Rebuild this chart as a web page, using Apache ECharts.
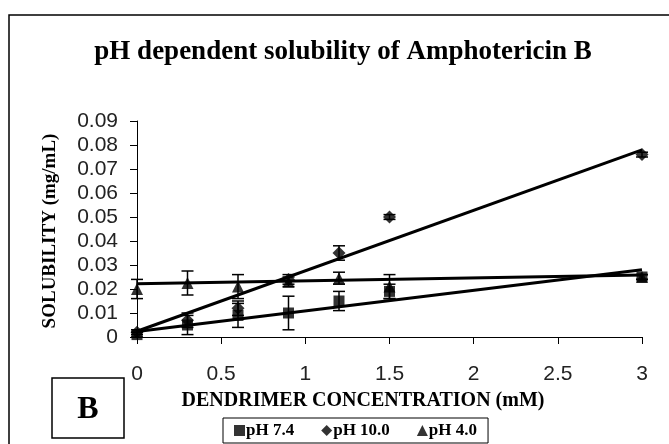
<!DOCTYPE html>
<html>
<head>
<meta charset="utf-8">
<script src="https://cdn.jsdelivr.net/npm/echarts@6/dist/echarts.min.js"></script>
<style>html,body{margin:0;padding:0;background:#fff;}#c{width:669px;height:444px;}</style>
</head>
<body>
<div id="c"></div>
<script>
var conc = [0, 0.3, 0.6, 0.9, 1.2, 1.5, 3];
var ph74 = [0.001, 0.005, 0.009, 0.010, 0.015, 0.019, 0.025];
var ph74Err = [0.001, 0.004, 0.005, 0.007, 0.004, 0.003, 0.001];
var ph10 = [0.002, 0.007, 0.012, 0.024, 0.035, 0.050, 0.076];
var ph10Err = [0.001, 0.003, 0.003, 0.002, 0.003, 0.001, 0.001];
var ph4 = [0.020, 0.0225, 0.021, 0.023, 0.0245, 0.021, 0.025];
var ph4Err = [0.004, 0.005, 0.005, 0.002, 0.0025, 0.005, 0.001];
var trend74 = [[0, 0.0023], [3, 0.0280]];
var trend10 = [[0, 0.0024], [3, 0.0780]];
var trend4 = [[0, 0.0222], [3, 0.0258]];
var xTicks = ['0', '0.5', '1', '1.5', '2', '2.5', '3'];
var yTicks = ['0', '0.01', '0.02', '0.03', '0.04', '0.05', '0.06', '0.07', '0.08', '0.09'];
var names = ['pH 7.4', 'pH 10.0', 'pH 4.0'];

function pts(ys){ return conc.map(function(x,i){ return [x, ys[i]]; }); }
function errData(ys, es){ return conc.map(function(x,i){ return [x, ys[i]-es[i], ys[i]+es[i]]; }); }
function errSeries(ys, es){
  return {
    type: 'custom', silent: true, z: 3,
    data: errData(ys, es),
    renderItem: function(params, api){
      var lo = api.coord([api.value(0), api.value(1)]);
      var hi = api.coord([api.value(0), api.value(2)]);
      var w = 6;
      var st = {stroke: '#000', lineWidth: 1.5};
      return {type: 'group', children: [
        {type: 'line', shape: {x1: lo[0], y1: lo[1], x2: hi[0], y2: hi[1]}, style: st},
        {type: 'line', shape: {x1: lo[0]-w, y1: lo[1], x2: lo[0]+w, y2: lo[1]}, style: st},
        {type: 'line', shape: {x1: hi[0]-w, y1: hi[1], x2: hi[0]+w, y2: hi[1]}, style: st}
      ]};
    }
  };
}
function trendSeries(d){
  return {type: 'line', data: d, symbol: 'none', silent: true, z: 2,
    lineStyle: {color: '#000', width: 3}};
}
function scat(name, ys, sym, size){
  return {name: name, type: 'scatter', data: pts(ys), symbol: sym, symbolSize: size, z: 4,
    itemStyle: {color: '#000'}};
}

var lblFont = '"Liberation Sans", Arial, sans-serif';
var chart = echarts.init(document.getElementById('c'), null, {renderer: 'canvas'});
chart.setOption({
  animation: false,
  backgroundColor: '#fff',
  grid: {left: 137, right: 27, top: 121, bottom: 107},
  xAxis: {
    type: 'value', min: 0, max: 3, interval: 0.5,
    axisLine: {lineStyle: {color: '#000', width: 1}},
    axisTick: {show: true, length: 7, lineStyle: {color: '#000'}},
    splitLine: {show: false},
    axisLabel: {margin: 27, color: '#222', fontFamily: lblFont, fontSize: 21,
      formatter: function(v){ return xTicks[Math.round(v/0.5)]; }}
  },
  yAxis: {
    type: 'value', min: 0, max: 0.09, interval: 0.01,
    axisLine: {show: true, lineStyle: {color: '#000', width: 1}},
    axisTick: {show: true, length: 7, lineStyle: {color: '#000'}},
    splitLine: {show: false},
    axisLabel: {margin: 19, color: '#222', fontFamily: lblFont, fontSize: 21,
      formatter: function(v){ return yTicks[Math.round(v/0.01)]; }}
  },
  legend: {
    data: [{name: names[0], icon: 'rect'}, {name: names[1], icon: 'diamond'}, {name: names[2], icon: 'triangle'}],
    left: 223, top: 418, itemWidth: 11, itemHeight: 11, itemGap: 27,
    borderColor: '#000', borderWidth: 1, borderRadius: 0, padding: [4, 11, 4, 11],
    textStyle: {fontFamily: 'Liberation Serif', fontWeight: 'bold', fontSize: 17, color: '#000', padding: [0,0,0,-4]},
    selectedMode: false
  },
  graphic: [
    {type: 'rect', shape: {x: 9, y: 15, width: 700, height: 460}, style: {fill: 'none', stroke: '#000', lineWidth: 1.5}, silent: true},
    {type: 'text', x: 343, y: 52, style: {text: 'pH dependent solubility of Amphotericin B', fontFamily: 'Liberation Serif', fontWeight: 'bold', fontSize: 27, fill: '#000', textAlign: 'center', textVerticalAlign: 'middle'}},
    {type: 'text', x: 363, y: 401, style: {text: 'DENDRIMER CONCENTRATION (mM)', fontFamily: 'Liberation Serif', fontWeight: 'bold', fontSize: 20, fill: '#000', textAlign: 'center', textVerticalAlign: 'middle'}},
    {type: 'text', x: 50, y: 231, rotation: Math.PI/2, style: {text: 'SOLUBILITY (mg/mL)', fontFamily: 'Liberation Serif', fontWeight: 'bold', fontSize: 19, fill: '#000', textAlign: 'center', textVerticalAlign: 'middle'}},
    {type: 'rect', shape: {x: 52, y: 378, width: 72, height: 60}, style: {fill: '#fff', stroke: '#000', lineWidth: 1.5}},
    {type: 'text', x: 88, y: 410, style: {text: 'B', fontFamily: 'Liberation Serif', fontWeight: 'bold', fontSize: 32, fill: '#000', textAlign: 'center', textVerticalAlign: 'middle'}}
  ],
  series: [
    trendSeries(trend74), trendSeries(trend10), trendSeries(trend4),
    errSeries(ph74, ph74Err), errSeries(ph10, ph10Err), errSeries(ph4, ph4Err),
    scat(names[0], ph74, 'rect', 11),
    scat(names[1], ph10, 'diamond', 13),
    scat(names[2], ph4, 'triangle', 12)
  ]
});
</script>
</body>
</html>
